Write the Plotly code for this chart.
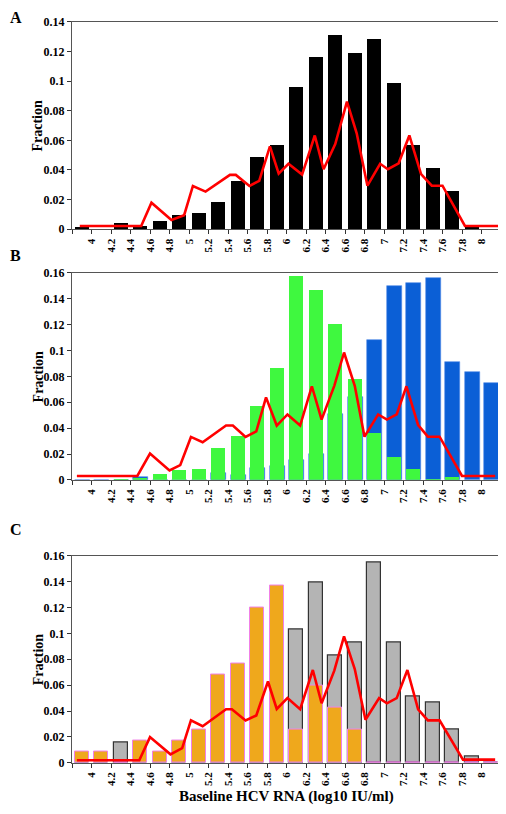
import plotly.graph_objects as go

# ---------------- data ----------------
bin_centers = [3.9, 4.1, 4.3, 4.5, 4.7, 4.9, 5.1, 5.3, 5.5, 5.7, 5.9,
               6.1, 6.3, 6.5, 6.7, 6.9, 7.1, 7.3, 7.5, 7.7, 7.9, 8.1]

# Panel A
a_bars = [0.0013, 0.0, 0.0044, 0.0022, 0.0057, 0.0099, 0.0110, 0.0184, 0.0327, 0.0487, 0.0571,
          0.0958, 0.1166, 0.1312, 0.1188, 0.1283, 0.0989, 0.0568, 0.0411, 0.0257, 0.0020, 0.0]
a_line_x = [3.88, 4.51, 4.615, 4.82, 4.95, 5.04, 5.17, 5.42, 5.48, 5.62, 5.72, 5.83, 5.92, 6.02, 6.16,
            6.29, 6.38, 6.50, 6.62, 6.72, 6.83, 6.96, 7.04, 7.15, 7.26, 7.38, 7.49, 7.60, 7.83, 8.19]
a_line_y = [0.0022, 0.0022, 0.0179, 0.0062, 0.0095, 0.0292, 0.0254, 0.0367, 0.0367, 0.0292, 0.0327,
            0.0560, 0.0376, 0.0442, 0.0369, 0.0633, 0.0405, 0.0575, 0.0862, 0.0648, 0.0294, 0.0442,
            0.0405, 0.0445, 0.0633, 0.0372, 0.0294, 0.0294, 0.0022, 0.0022]

# Panel B
b_green = [0.0, 0.0, 0.0005, 0.0015, 0.0043, 0.0073, 0.0081, 0.0243, 0.0339, 0.0570, 0.0866,
           0.1580, 0.1466, 0.1203, 0.0777, 0.0362, 0.0180, 0.0081, 0.0005, 0.0020, 0.0, 0.0]
b_blue = [0.0, 0.0, 0.0, 0.0023, 0.0, 0.0, 0.0, 0.0056, 0.0035, 0.0089, 0.0110,
          0.0157, 0.0200, 0.0506, 0.0640, 0.1080, 0.1500, 0.1520, 0.1560, 0.0912, 0.0833, 0.0752]
b_line_x = [3.85, 4.47, 4.60, 4.80, 4.91, 5.02, 5.14, 5.38, 5.45, 5.58, 5.69, 5.79, 5.90, 6.01, 6.14,
            6.26, 6.36, 6.49, 6.59, 6.70, 6.80, 6.94, 7.03, 7.13, 7.23, 7.35, 7.45, 7.57, 7.80, 8.14]
b_line_y = [0.0030, 0.0030, 0.0203, 0.0073, 0.0114, 0.0332, 0.0291, 0.0420, 0.0420, 0.0332, 0.0375,
            0.0638, 0.0420, 0.0506, 0.0420, 0.0724, 0.0466, 0.0727, 0.0985, 0.0727, 0.0334, 0.0506,
            0.0466, 0.0506, 0.0724, 0.0423, 0.0334, 0.0334, 0.0030, 0.0030]

# Panel C
c_orange = [0.0088, 0.0088, 0.0, 0.0171, 0.0088, 0.0171, 0.0256, 0.0684, 0.0769, 0.1197, 0.1368,
            0.0256, 0.0598, 0.0427, 0.0256, 0.0, 0.0, 0.0, 0.0, 0.0, 0.0, 0.0]
c_gray = [0.0, 0.0, 0.0155, 0.0, 0.0, 0.0, 0.0, 0.0, 0.0, 0.0, 0.0,
          0.1031, 0.1392, 0.0825, 0.0928, 0.1546, 0.0928, 0.0515, 0.0464, 0.0258, 0.0052, 0.0]
c_line_x = [3.85, 4.49, 4.60, 4.81, 4.93, 5.02, 5.14, 5.38, 5.44, 5.58, 5.69, 5.81, 5.90, 6.01, 6.14,
            6.27, 6.36, 6.49, 6.59, 6.70, 6.81, 6.95, 7.03, 7.13, 7.24, 7.35, 7.45, 7.57, 7.81, 8.14]
c_line_y = [0.0020, 0.0020, 0.0199, 0.0066, 0.0114, 0.0328, 0.0283, 0.0414, 0.0414, 0.0328, 0.0366,
            0.0628, 0.0416, 0.0500, 0.0414, 0.0717, 0.0460, 0.0712, 0.0977, 0.0724, 0.0333, 0.0500,
            0.0460, 0.0500, 0.0717, 0.0414, 0.0328, 0.0328, 0.0025, 0.0025]

x_tick_vals = [3.8, 4.0, 4.2, 4.4, 4.6, 4.8, 5.0, 5.2, 5.4, 5.6, 5.8, 6.0,
               6.2, 6.4, 6.6, 6.8, 7.0, 7.2, 7.4, 7.6, 7.8, 8.0, 8.2]
x_tick_text = ["", "4", "4.2", "4.4", "4.6", "4.8", "5", "5.2", "5.4", "5.6", "5.8", "6",
               "6.2", "6.4", "6.6", "6.8", "7", "7.2", "7.4", "7.6", "7.8", "8", ""]
y_ticks_a = [0, 0.02, 0.04, 0.06, 0.08, 0.1, 0.12, 0.14]
y_ticks_bc = [0, 0.02, 0.04, 0.06, 0.08, 0.1, 0.12, 0.14, 0.16]
panel_letters = ["A", "B", "C"]

# ---------------- figure ----------------
W, H = 506, 814
OFF = 8  # page body margin: figure is drawn 8px in from the window edge
SERIF = "Liberation Serif"
BW = 0.142
RED = "#ff0000"

fig = go.Figure()

# A
fig.add_trace(go.Bar(x=bin_centers, y=a_bars, width=BW, marker=dict(color="#000000", line=dict(width=0)),
                     xaxis="x", yaxis="y", showlegend=False))
fig.add_trace(go.Scatter(x=a_line_x, y=a_line_y, mode="lines", line=dict(color=RED, width=2.6),
                         xaxis="x", yaxis="y", showlegend=False))
# B
fig.add_trace(go.Bar(x=bin_centers, y=b_blue, width=BW + 0.012, offset=-BW / 2,
                     marker=dict(color="#0b5fd6", line=dict(width=0.6, color="#4f86e6")),
                     xaxis="x2", yaxis="y2", showlegend=False))
fig.add_trace(go.Bar(x=bin_centers, y=b_green, width=BW, offset=-BW / 2,
                     marker=dict(color="#3ff83f", line=dict(width=0)),
                     xaxis="x2", yaxis="y2", showlegend=False))
fig.add_trace(go.Scatter(x=b_line_x, y=b_line_y, mode="lines", line=dict(color=RED, width=2.6),
                         xaxis="x2", yaxis="y2", showlegend=False))
# C
fig.add_trace(go.Bar(x=bin_centers, y=c_gray, width=BW,
                     marker=dict(color="#b4b4b4", line=dict(width=1.2, color="#333333")),
                     xaxis="x3", yaxis="y3", showlegend=False))
fig.add_trace(go.Bar(x=bin_centers, y=c_orange, width=BW,
                     marker=dict(color="#efa81c", line=dict(width=1.0, color="#f080e8")),
                     xaxis="x3", yaxis="y3", showlegend=False))
fig.add_trace(go.Scatter(x=c_line_x, y=c_line_y, mode="lines", line=dict(color=RED, width=2.6),
                         xaxis="x3", yaxis="y3", showlegend=False))


def px_x(p):
    return (p - OFF) / W


def px_y(p):
    return 1 - (p - OFF) / H


xdom = [px_x(72), px_x(501)]


def ydom(top, bottom):
    return [px_y(bottom), px_y(top)]


def xax(anchor):
    return dict(domain=xdom, range=[3.8, 8.2], anchor=anchor, tickmode="array",
                tickvals=x_tick_vals, ticktext=x_tick_text, tickangle=-90,
                ticks="outside", ticklen=4, tickcolor="#333", tickwidth=1,
                tickfont=dict(family=SERIF, size=11, color="#000", weight="bold"),
                showline=True, linecolor="#555", linewidth=1, mirror=True,
                showgrid=False, zeroline=False)


def yax(anchor, dom, rng, tv):
    return dict(domain=dom, range=rng, anchor=anchor, tickmode="array", tickvals=tv,
                ticks="outside", ticklen=4, tickcolor="#333", tickwidth=1,
                tickfont=dict(family=SERIF, size=12, color="#000", weight="bold"),
                showline=True, linecolor="#555", linewidth=1, mirror=True,
                showgrid=False, zeroline=False)


dA = ydom(15, 226)
dB = ydom(270.5, 481)
dC = ydom(558, 769)

fig.update_layout(
    width=W, height=H,
    margin=dict(l=0, r=0, t=0, b=0),
    paper_bgcolor="white", plot_bgcolor="white",
    barmode="overlay", bargap=0,
    xaxis=xax("y"), yaxis=yax("x", dA, [0, 0.14], y_ticks_a),
    xaxis2=xax("y2"), yaxis2=yax("x2", dB, [0, 0.16], y_ticks_bc),
    xaxis3=xax("y3"), yaxis3=yax("x3", dC, [0, 0.16], y_ticks_bc),
)

annots = []
for letter, py in zip(panel_letters, [11, 253, 531]):
    annots.append(dict(text=letter, x=0.0, y=px_y(py), xref="paper", yref="paper",
                       showarrow=False, xanchor="left", yanchor="middle", xshift=0,
                       font=dict(family=SERIF, size=16, color="#000", weight="bold")))
for dom in (dA, dB, dC):
    annots.append(dict(text="Fraction", x=px_x(38), y=(dom[0] + dom[1]) / 2, xref="paper", yref="paper",
                       showarrow=False, textangle=-90, xanchor="center", yanchor="middle",
                       font=dict(family=SERIF, size=14, color="#000", weight="bold")))
annots.append(dict(text="Baseline HCV RNA (log10 IU/ml)", x=px_x(286), y=px_y(803),
                   xref="paper", yref="paper", showarrow=False, xanchor="center", yanchor="middle",
                   font=dict(family=SERIF, size=15, color="#000", weight="bold")))
fig.update_layout(annotations=annots)

fig.write_html("out.html")
